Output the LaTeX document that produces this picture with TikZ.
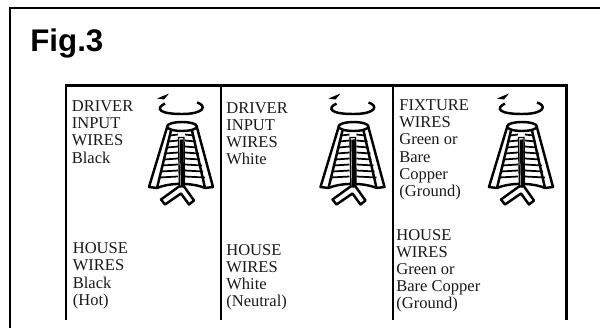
\documentclass[tikz,border=0pt]{standalone}
\usepackage{fontspec}
\setmainfont{Liberation Serif}
\setsansfont{Liberation Sans}
\usepackage{tikz}
\usetikzlibrary{arrows.meta,positioning}

\newcommand{\wirenut}[1]{%
    \begin{scope}[shift={#1}, nut/.style={line width=1.4pt, line join=round}]
        % Cap and shell
        \draw[nut] (0,0) ellipse (15 and 4.5);
        \draw[nut] (-15,1) -- (-33,60.5) -- (-25,61.5) -- (-11,4);
        \draw[nut] (15,1) -- (31,60.5) -- (23,61.5) -- (10,4);
        \draw[nut] (-25,61.5) .. controls (-12,56) and (10,56) .. (23,61.5);
        % Thread
        \foreach \yy/\dd in {8/12,14/14,20/15,26/17,32/18,38/20,44/21,50/23} {
            \draw[line width=1pt] (-\dd,\yy+1) -- (-4,\yy);
            \draw[line width=1pt] (3,\yy) -- (\dd,\yy+1);
        }
        % Wires
        \draw[line width=0.8pt, fill=white] (-3.5,11) -- (-2.5,62) -- (2.5,62) -- (2,11) -- cycle;
        \draw[line width=2pt] (-0.5,13) -- (0.5,60);
        \draw[nut, fill=white] (-3,60) -- (-21,73) -- (-17,78) -- (-1,67) -- (7,78) -- (12,74) -- (2,60) -- cycle;
        % Turn arrow
        \draw[line width=1.4pt] (-17,-23) .. controls (-27,-18) and (-23,-12.5) .. (0,-12.5)
            .. controls (23,-12.5) and (25,-21) .. (15,-24);
        \fill (-25,-28) -- (-13,-33) -- (-18,-27) -- cycle;
    \end{scope}}

\begin{document}
\begin{tikzpicture}[
        x=0.02cm, y=-0.02cm,
        frame/.style={line width=1.3pt, draw=black},
        wirelabel/.style={anchor=north west, align=left, inner sep=0pt, font=\fontsize{9.4pt}{9.75pt}\selectfont, text=black!90}
    ]
        \useasboundingbox (0,0) rectangle (600,329);

        % Outer frame
        \coordinate (outerbl) at (10,328);
        \coordinate (outertl) at (10,8);
        \coordinate (outertr) at (600,8);
        \draw[frame] (outerbl) -- (outertl) -- (outertr);

        \node[anchor=base west, inner sep=0pt, font=\sffamily\bfseries\fontsize{17.8pt}{20pt}\selectfont] (title) at (30,51.7) {Fig.3};

        % Table lines
        \coordinate (tabtl) at (66,85.5);
        \coordinate (tabtr) at (566.5,85.5);
        \coordinate (tabbl) at (66,320);
        \coordinate (tabbr) at (566.5,320);
        \coordinate (tabm) at (221,85.5);
        \coordinate (tabmb) at (221,320);
        \coordinate (tabn) at (393,85.5);
        \coordinate (tabnb) at (393,320);
        \draw[frame] (tabbl) -- (tabtl) -- (tabtr) -- (tabbr);
        \draw[frame] (tabm) -- (tabmb);
        \draw[frame] (tabn) -- (tabnb);

        % Wire nuts
        \wirenut{(182,126.5)}
        \wirenut{(353.5,126.5)}
        \wirenut{(522,126.5)}

        % Labels
        \node[wirelabel] (drvblack) at (71.5,100.5) {DRIVER\\INPUT\\WIRES\\Black};
        \node[wirelabel] (drvwhite) at (226,102) {DRIVER\\INPUT\\WIRES\\White};
        \node[wirelabel] (fixture) at (399,99.5) {FIXTURE\\WIRES\\Green or\\Bare\\Copper\\(Ground)};
        \node[wirelabel] (hsblack) at (72.5,242.5) {HOUSE\\WIRES\\Black\\(Hot)};
        \node[wirelabel] (hswhite) at (226,244) {HOUSE\\WIRES\\White\\(Neutral)};
        \node[wirelabel] (hsground) at (396,229) {HOUSE\\WIRES\\Green or\\Bare Copper\\(Ground)};
    \end{tikzpicture}
\end{document}
